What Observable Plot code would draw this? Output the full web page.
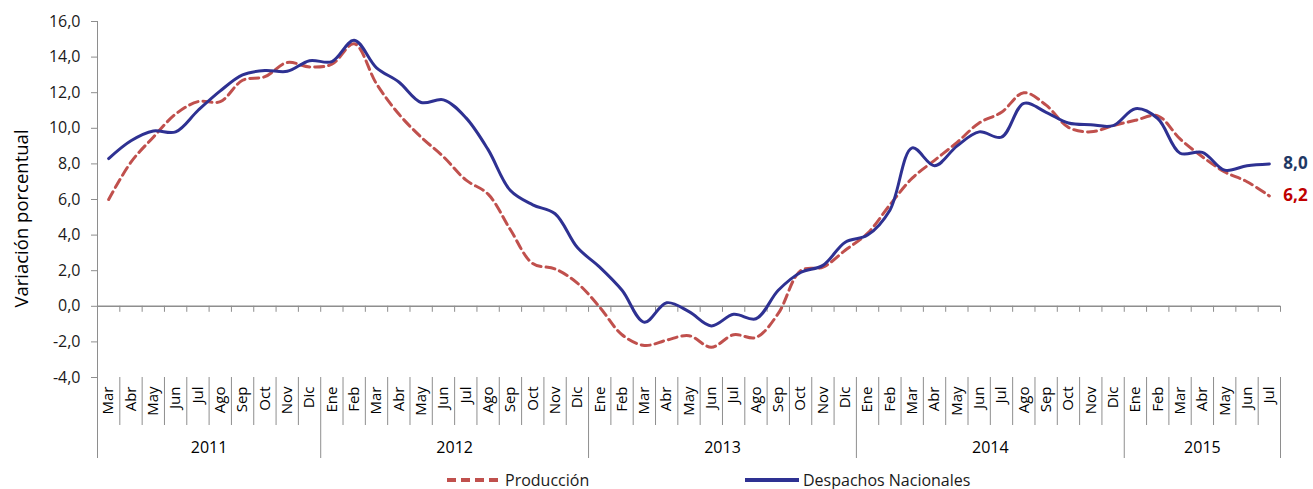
<!DOCTYPE html>
<html>
<head>
<meta charset="utf-8">
<script src="https://cdn.jsdelivr.net/npm/d3@7"></script>
<script src="https://cdn.jsdelivr.net/npm/@observablehq/plot@0.6"></script>
<style>
  body { margin: 0; background: #fff; font-family: "Open Sans", sans-serif; color: #1a1a1a; }
  #legend { position: relative; width: 1313px; height: 24px; margin-top: 3px; }
  #legend .item { position: absolute; top: 0; height: 24px; display: flex; align-items: center; font-size: 16px; }
  #legend svg { margin-right: 4px; }
</style>
</head>
<body>
<div id="chart"></div>
<div id="legend"></div>
<script>
const months = [
  "Mar","Abr","May","Jun","Jul","Ago","Sep","Oct","Nov","Dic",
  "Ene","Feb","Mar","Abr","May","Jun","Jul","Ago","Sep","Oct","Nov","Dic",
  "Ene","Feb","Mar","Abr","May","Jun","Jul","Ago","Sep","Oct","Nov","Dic",
  "Ene","Feb","Mar","Abr","May","Jun","Jul","Ago","Sep","Oct","Nov","Dic",
  "Ene","Feb","Mar","Abr","May","Jun","Jul"
];
const years = ["2011","2012","2013","2014","2015"];
const monthsPerYear = [10, 12, 12, 12, 7];
const produccion = [
  6.0, 8.1, 9.5, 10.8, 11.5, 11.5, 12.7, 12.9, 13.7, 13.45,
  13.6, 14.75, 12.5, 10.8, 9.5, 8.4, 7.1, 6.3, 4.3, 2.4, 2.1, 1.3,
  -0.05, -1.6, -2.2, -1.9, -1.65, -2.3, -1.6, -1.75, -0.4, 2.0, 2.2, 3.15,
  4.1, 5.7, 7.2, 8.2, 9.2, 10.3, 10.9, 12.0, 11.3, 10.05, 9.8, 10.15,
  10.45, 10.7, 9.4, 8.4, 7.55, 7.0, 6.2
];
const despachos = [
  8.3, 9.3, 9.85, 9.8, 11.0, 12.1, 13.0, 13.25, 13.2, 13.8,
  13.75, 14.95, 13.4, 12.6, 11.45, 11.6, 10.6, 8.8, 6.5, 5.7, 5.2, 3.3,
  2.2, 0.9, -0.9, 0.2, -0.3, -1.1, -0.45, -0.7, 0.9, 1.9, 2.3, 3.6,
  4.0, 5.4, 8.9, 7.9, 9.0, 9.8, 9.5, 11.4, 10.9, 10.3, 10.2, 10.15,
  11.1, 10.55, 8.6, 8.65, 7.65, 7.9, 8.0
];
const yTicks = [-4, -2, 0, 2, 4, 6, 8, 10, 12, 14, 16];
const seriesNames = ["Producción", "Despachos Nacionales"];
const yTitle = "Variación porcentual";

const rows = months.map((m, i) => ({i, month: m, prod: produccion[i], desp: despachos[i]}));
let acc = 0;
const yearSpans = years.map((y, k) => {
  const s = acc; acc += monthsPerYear[k];
  return {year: y, start: s - 0.5, end: acc - 0.5, mid: (s + acc - 1) / 2};
});
const n = months.length;
const monthBounds = d3.range(0, n - 1).map(i => i + 0.5).filter(b => !yearSpans.some(s => s.end === b));
const allBounds = d3.range(0, n).map(i => i + 0.5);
const yearBounds = yearSpans.map(s => s.end);
const fmt = d => d.toFixed(1).replace(".", ",");
const axisColor = "#8e8e8e";
const redC = "#c0504d", blueC = "#2e3192";
const last = rows[n - 1];
const base = () => -4;

const chart = Plot.plot({
  width: 1313, height: 465,
  marginLeft: 97, marginRight: 33, marginTop: 21, marginBottom: 88,
  x: {domain: [-0.5, n - 0.5], axis: null},
  y: {domain: [-4, 16], axis: null},
  style: {fontFamily: "Open Sans", fontSize: "15px", color: "#1a1a1a", background: "#fff"},
  marks: [
    Plot.axisY({ticks: yTicks, tickFormat: fmt, tickSize: 6, tickPadding: 11, stroke: axisColor, fill: "#1a1a1a", fontSize: 16, label: null}),
    Plot.ruleX([-0.5], {y1: 16, y2: -4, stroke: axisColor, insetBottom: -81}),
    Plot.ruleY([0], {x1: -0.5, x2: n - 0.5, stroke: axisColor, strokeWidth: 1.5}),
    Plot.ruleX(allBounds, {x: d => d, y1: 0, y2: 0, stroke: axisColor, insetBottom: -6}),
    Plot.ruleX(monthBounds, {x: d => d, y1: base, y2: base, stroke: axisColor, insetBottom: -48}),
    Plot.ruleX(yearBounds, {x: d => d, y1: base, y2: base, stroke: axisColor, insetBottom: -81}),
    Plot.text(rows, {x: "i", y: base, text: "month", rotate: -90, textAnchor: "end", dy: 9, fontSize: 15, fill: "#000"}),
    Plot.text(yearSpans, {x: "mid", y: base, text: "year", dy: 70, fontSize: 16, fill: "#000"}),
    Plot.text([yTitle], {frameAnchor: "left", textAnchor: "middle", rotate: -90, dx: -75, dy: 19, fontSize: 18.5, fill: "#000"}),
    Plot.line(rows, {x: "i", y: "prod", stroke: redC, strokeWidth: 3, strokeDasharray: "9,5", curve: "catmull-rom"}),
    Plot.line(rows, {x: "i", y: "desp", stroke: blueC, strokeWidth: 3, curve: "catmull-rom"}),
    Plot.text([last], {x: "i", y: "desp", text: d => fmt(d.desp), textAnchor: "start", dx: 14, fill: "#1f3864", fontWeight: "bold", fontSize: 17}),
    Plot.text([last], {x: "i", y: "prod", text: d => fmt(d.prod), textAnchor: "start", dx: 14, fill: "#c00000", fontWeight: "bold", fontSize: 17})
  ]
});
document.getElementById("chart").appendChild(chart);

const legend = document.getElementById("legend");
const items = [
  {name: seriesNames[0], color: redC, dash: "9,5", left: 447},
  {name: seriesNames[1], color: blueC, dash: null, left: 745}
];
for (const it of items) {
  const div = document.createElement("div");
  div.className = "item";
  div.style.left = it.left + "px";
  div.innerHTML = `<svg width="54" height="10"><line x1="0" x2="54" y1="5" y2="5" stroke="${it.color}" stroke-width="4" ${it.dash ? `stroke-dasharray="${it.dash}"` : ""}/></svg><span>${it.name}</span>`;
  legend.appendChild(div);
}
</script>
</body>
</html>
